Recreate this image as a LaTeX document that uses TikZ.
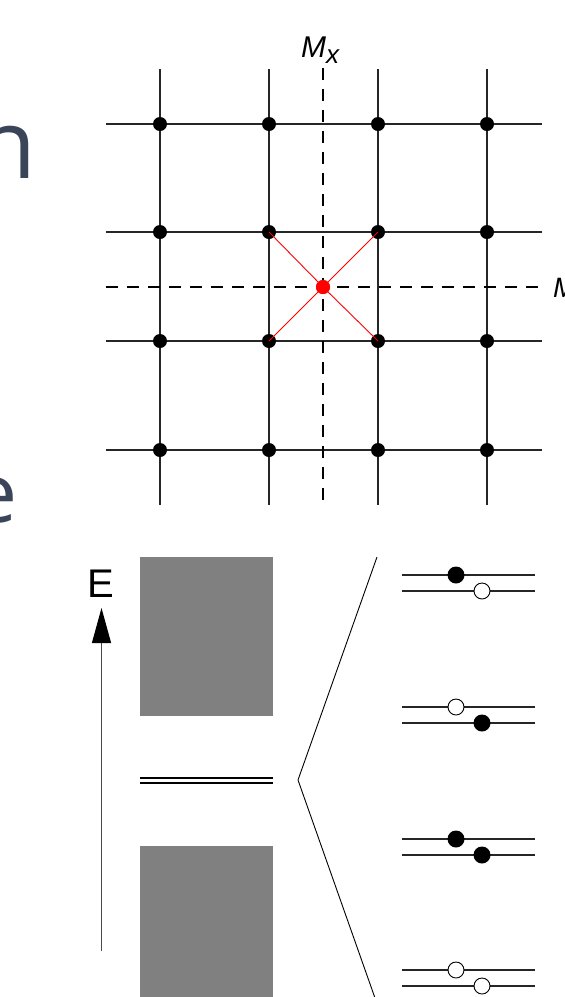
\documentclass[tikz,border=0pt]{standalone}
\usepackage{fontspec}
\setmainfont{Liberation Sans}
\newfontfamily\slidefont{Open Sans}
\usetikzlibrary{arrows.meta}
\definecolor{slate}{HTML}{3B4559}
\definecolor{boxgray}{HTML}{808080}
\tikzset{
  gridline/.style={line width=1.1pt, draw=black!85},
  mirror/.style={line width=1.3pt, draw=black, dash pattern=on 12pt off 9pt},
  dot/.style={circle, fill=black, inner sep=0pt, minimum size=14pt},
  reddot/.style={circle, fill=red, inner sep=0pt, minimum size=14pt},
  bond/.style={red, line width=0.9pt},
  level/.style={line width=1.2pt, draw=black!85},
  fullel/.style={circle, fill=black, inner sep=0pt, minimum size=17pt},
  emptyel/.style={circle, draw=black, line width=0.9pt, fill=white, inner sep=0pt, minimum size=16pt},
  band/.style={fill=boxgray, draw=none},
  thinline/.style={line width=0.9pt, draw=black}
}
\begin{document}
\begin{tikzpicture}[x=1pt, y=-1pt]
\useasboundingbox[fill=white] (0,0) rectangle (565,997);
% partial slide letters
\node[anchor=base east, inner sep=0pt, text=slate, font=\slidefont\fontsize{96}{96}\selectfont] (letn) at (37,178) {n};
\node[anchor=base east, inner sep=0pt, text=slate, font=\slidefont\fontsize{82}{82}\selectfont] (lete) at (18,522) {e};
% grid lines
\foreach \x in {160,269,378,487} \draw[gridline] (\x,69) -- (\x,505);
\foreach \y in {124,232,341,450} \draw[gridline] (106,\y) -- (542,\y);
% mirror lines
\draw[mirror] (323,68) -- (323,505);
\draw[mirror] (106,287) -- (545,287);
% dots
\foreach \x/\i in {160/1,269/2,378/3,487/4}
  \foreach \y/\j in {124/1,232/2,341/3,450/4}
    \node[dot] (d\i\j) at (\x,\y) {};
\node[reddot] (c) at (323,287) {};
\draw[bond] (c.center) -- (d22.center);
\draw[bond] (c.center) -- (d32.center);
\draw[bond] (c.center) -- (d23.center);
\draw[bond] (c.center) -- (d33.center);
\node[reddot] at (323,287) {};
% labels
\node[anchor=base west, inner sep=0pt, font=\fontsize{30}{30}\selectfont\itshape] (mx) at (301,57) {M\raisebox{-6pt}{\fontsize{26}{26}\selectfont x}};
\node[anchor=base west, inner sep=0pt, font=\fontsize{28}{28}\selectfont\itshape] (my) at (553,297) {M};
% energy axis
\node[anchor=base west, inner sep=0pt, font=\fontsize{40}{40}\selectfont] (E) at (87,597) {E};
\coordinate (ebot) at (101.5,951);
\coordinate (etop) at (101.5,608);
\draw[line width=1.1pt, draw=black!70, -{Triangle[length=35pt, width=19pt, color=black, fill=black]}] (ebot) -- (etop);
% bands
\fill[band] (140,557) rectangle (273,716);
\fill[band] (140,846) rectangle (273,1000);
\draw[line width=1.2pt] (140,778) -- (273,778);
\draw[line width=1.2pt] (140,783) -- (273,783);
% V lines
\coordinate (vtop) at (377,557);
\coordinate (vmid) at (298,780);
\coordinate (vbot) at (375,998);
\draw[thinline] (vtop) -- (vmid) -- (vbot);
% level pairs
\foreach \y in {575,707,839,970} {
  \draw[level] (402,\y) -- (535,\y);
  \draw[level] (402,\y+16) -- (535,\y+16);
}
\node[fullel] (a1) at (456,575) {};
\node[emptyel] (b1) at (482,591) {};
\node[emptyel] (a2) at (456,707) {};
\node[fullel] (b2) at (482,723) {};
\node[fullel] (a3) at (456,839) {};
\node[fullel] (b3) at (482,855) {};
\node[emptyel] (a4) at (456,970) {};
\node[emptyel] (b4) at (482,986) {};
\end{tikzpicture}
\end{document}
